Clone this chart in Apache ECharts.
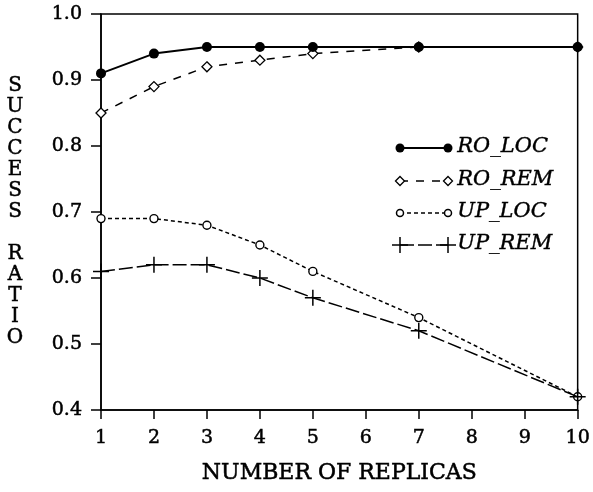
<!DOCTYPE html>
<html>
<head>
<meta charset="utf-8">
<script src="https://cdn.jsdelivr.net/npm/echarts@6/dist/echarts.min.js"></script>
<style>
html,body{margin:0;padding:0;background:#fff;}
#chart{width:593px;height:492px;}
</style>
</head>
<body>
<div id="chart"></div>
<script>
const replicas = [1, 2, 3, 4, 5, 7, 10];
const roLoc = [0.91, 0.94, 0.95, 0.95, 0.95, 0.95, 0.95];
const roRem = [0.85, 0.89, 0.92, 0.93, 0.94, 0.95, 0.95];
const upLoc = [0.69, 0.69, 0.68, 0.65, 0.61, 0.54, 0.42];
const upRem = [0.61, 0.62, 0.62, 0.60, 0.57, 0.52, 0.42];
const seriesNames = ['RO_LOC', 'RO_REM', 'UP_LOC', 'UP_REM'];
const xTicks = [1, 2, 3, 4, 5, 6, 7, 8, 9, 10];
const yTicks = [0.4, 0.5, 0.6, 0.7, 0.8, 0.9, 1.0];

const FONT = 'DejaVu Serif';
const plusPath = 'path://M0,5 L10,5 M5,0 L5,10';
const pairs = arr => replicas.map((x, i) => [x, arr[i]]);
const heavy = {textBorderColor: '#000', textBorderWidth: 0.5};

const chart = echarts.init(document.getElementById('chart'));

// legend samples (decorative, in pixels)
const legX1 = 400, legX2 = 448, legTextX = 457;
const legY = [148, 181, 213, 245];
const graphics = [];
function sample(i, dash, sym) {
  const y = legY[i];
  graphics.push({type:'line', shape:{x1:legX1, y1:y, x2:legX2, y2:y},
    style:{stroke:'#000', lineWidth: i===0?2:1.5, lineDash: dash}});
  [legX1, legX2].forEach(x => {
    if (sym === 'dot') graphics.push({type:'circle', shape:{cx:x, cy:y, r:4.5}, style:{fill:'#000'}});
    if (sym === 'circle') graphics.push({type:'circle', shape:{cx:x, cy:y, r:3.5}, style:{fill:'#fff', stroke:'#000', lineWidth:1.5}});
    if (sym === 'diamond') graphics.push({type:'polygon', shape:{points:[[x-4.5,y],[x,y-4.5],[x+4.5,y],[x,y+4.5]]}, style:{fill:'#fff', stroke:'#000', lineWidth:1.3}});
    if (sym === 'plus') {
      graphics.push({type:'line', shape:{x1:x-8, y1:y, x2:x+8, y2:y}, style:{stroke:'#000', lineWidth:1.5}});
      graphics.push({type:'line', shape:{x1:x, y1:y-8, x2:x, y2:y+8}, style:{stroke:'#000', lineWidth:1.5}});
    }
  });
  graphics.push({type:'text', left: legTextX, top: y - 12,
    style:{text: seriesNames[i], fill:'#000', font: 'italic 21px "' + FONT + '"', stroke: '#000', lineWidth: 0.4}});
}
sample(0, null, 'dot');
sample(1, [8, 8], 'diamond');
sample(2, [4, 3], 'circle');
sample(3, [14, 4], 'plus');

const option = {
  backgroundColor: '#fff',
  animation: false,
  grid: {left: 101, right: 12, top: 14, bottom: 82, show: true, borderColor: '#000', borderWidth: 1.5},
  xAxis: {
    type: 'value', min: 1, max: 10, interval: 1,
    name: 'NUMBER OF REPLICAS', nameLocation: 'middle', nameGap: 52,
    nameTextStyle: Object.assign({fontFamily: FONT, fontSize: 22, color: '#000'}, heavy),
    axisLine: {show: true, onZero: false, lineStyle: {color: '#000', width: 1.5}},
    axisTick: {show: true, inside: false, length: 9, lineStyle: {color: '#000', width: 1.5}},
    axisLabel: Object.assign({fontFamily: FONT, fontSize: 19, color: '#000', margin: 19,
      formatter: v => xTicks.includes(v) ? String(v) : ''}, heavy),
    splitLine: {show: false}
  },
  yAxis: {
    type: 'value', min: 0.4, max: 1.0, interval: 0.1,
    name: 'S\nU\nC\nC\nE\nS\nS\n\nR\nA\nT\nI\nO', nameLocation: 'middle', nameRotate: 0, nameGap: 86,
    nameTextStyle: Object.assign({fontFamily: FONT, fontSize: 20, color: '#000', lineHeight: 21, align: 'center', verticalAlign: 'middle'}, heavy),
    axisLine: {show: true, lineStyle: {color: '#000', width: 1.5}},
    axisTick: {show: true, inside: false, length: 10, lineStyle: {color: '#000', width: 1.5}},
    axisLabel: Object.assign({fontFamily: FONT, fontSize: 19, color: '#000', margin: 19,
      formatter: v => { const t = yTicks.find(k => Math.abs(k - v) < 1e-6); return t !== undefined ? t.toFixed(1) : ''; }}, heavy),
    splitLine: {show: false}
  },
  series: [
    {name: seriesNames[1], type: 'line', data: pairs(roRem), symbol: 'diamond', symbolSize: 10, z: 2,
      itemStyle: {color: '#fff', borderColor: '#000', borderWidth: 1.3}, lineStyle: {color: '#000', width: 1.5, type: [8, 8]}},
    {name: seriesNames[2], type: 'line', data: pairs(upLoc), symbol: 'circle', symbolSize: 8, z: 2,
      itemStyle: {color: '#fff', borderColor: '#000', borderWidth: 1.4}, lineStyle: {color: '#000', width: 1.5, type: [4, 3]}},
    {name: seriesNames[3], type: 'line', data: pairs(upRem), symbol: plusPath, symbolSize: 16, z: 3,
      itemStyle: {color: 'none', borderColor: '#000', borderWidth: 1.5}, lineStyle: {color: '#000', width: 1.5, type: [14, 4]}},
    {name: seriesNames[0], type: 'line', data: pairs(roLoc), symbol: 'circle', symbolSize: 10, z: 4,
      itemStyle: {color: '#000'}, lineStyle: {color: '#000', width: 2}}
  ],
  graphic: graphics
};
chart.setOption(option);
</script>
</body>
</html>
